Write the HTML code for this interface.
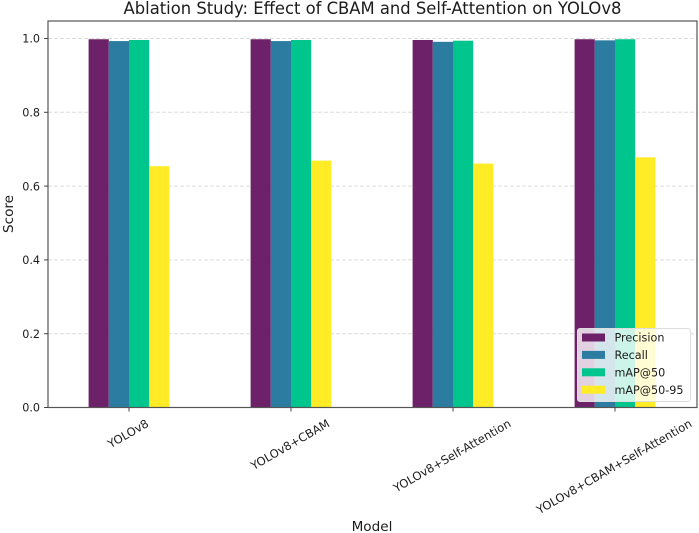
<!DOCTYPE html>
<html lang="en">
<head>
<meta charset="utf-8">
<title>Ablation Study</title>
<style>
html,body{margin:0;padding:0;background:#fff;width:699px;height:533px;overflow:hidden}
svg{display:block;font-family:"DejaVu Sans","Liberation Sans",sans-serif;fill:#1c1c1c;filter:blur(0.35px)}
</style>
</head>
<body>
<svg id="chart" width="699" height="533" viewBox="0 0 699 533" xmlns="http://www.w3.org/2000/svg"></svg>
<script>
const categories = ["YOLOv8", "YOLOv8+CBAM", "YOLOv8+Self-Attention", "YOLOv8+CBAM+Self-Attention"];
const seriesNames = ["Precision", "Recall", "mAP@50", "mAP@50-95"];
const seriesColors = ["#6d2169", "#2c7ca2", "#00c58c", "#ffec26"];
const precision = [0.998, 0.998, 0.996, 0.998];
const recall = [0.993, 0.993, 0.991, 0.995];
const map50 = [0.996, 0.996, 0.994, 0.998];
const map5095 = [0.654, 0.669, 0.661, 0.678];
const yTicks = [0, 0.2, 0.4, 0.6, 0.8, 1.0];

const allSeries = [precision, recall, map50, map5095];
const svg = document.getElementById('chart');
const NS = 'http://www.w3.org/2000/svg';
const plot = {left: 48, right: 697, top: 21, bottom: 407.5};
function xScale(i) { return 129 + i * 162; }
function yScale(v) { return plot.bottom - v * 369; }
const barW = 20.2;

function make(tag, attrs, text) {
  const el = document.createElementNS(NS, tag);
  for (const k in attrs) el.setAttribute(k, attrs[k]);
  if (text !== undefined) el.textContent = text;
  svg.appendChild(el);
  return el;
}

yTicks.forEach(function (t) {
  const y = yScale(t);
  const grid = make('line', {x1: plot.left, x2: plot.right, y1: y, y2: y, stroke: '#dcdcdc', 'stroke-width': 1, 'stroke-dasharray': '4 2'});
  
  
});

allSeries.forEach(function (vals, s) {
  vals.forEach(function (v, i) {
    const bar = make('rect', {x: xScale(i) + (s - 2) * barW, y: yScale(v), width: barW, height: yScale(0) - yScale(v), fill: seriesColors[s]});
    
    
  });
});

const frame = make('rect', {x: plot.left, y: plot.top, width: plot.right - plot.left, height: plot.bottom - plot.top, fill: 'none', stroke: '#555', 'stroke-width': 1.2});



yTicks.forEach(function (t) {
  const y = yScale(t);
  const tick = make('line', {x1: plot.left - 4, x2: plot.left, y1: y, y2: y, stroke: '#444', 'stroke-width': 1});
  
  
  const lab = make('text', {x: plot.left - 8, y: y + 4.2, 'text-anchor': 'end', 'font-size': 11.2}, t.toFixed(1));
  
  
});

categories.forEach(function (c, i) {
  const x = xScale(i);
  const tick = make('line', {x1: x, x2: x, y1: plot.bottom, y2: plot.bottom + 4, stroke: '#444', 'stroke-width': 1});
  
  
  const lab = make('text', {x: x, y: 430, 'text-anchor': 'middle', 'font-size': 11.6}, c);
  
  
  const len = lab.getComputedTextLength();
  const cx = x - 1;
  const cy = 416.5 + (len * 0.5 + 11.5) / 2;
  lab.setAttribute('x', cx);
  lab.setAttribute('y', cy + 4.2);
  lab.setAttribute('transform', 'rotate(-30 ' + cx + ' ' + cy + ')');
});

const title = make('text', {x: 372.5, y: 14, 'text-anchor': 'middle', 'font-size': 16.4}, 'Ablation Study: Effect of CBAM and Self-Attention on YOLOv8');


const xTitle = make('text', {x: 372, y: 531, 'text-anchor': 'middle', 'font-size': 13.6}, 'Model');


const yTitle = make('text', {x: 13, y: 214, 'text-anchor': 'middle', 'font-size': 13.6, transform: 'rotate(-90 13 214)'}, 'Score');



const legendBox = make('rect', {x: 577.5, y: 328.5, width: 113, height: 73, rx: 2.5, fill: '#fff', 'fill-opacity': 0.8, stroke: '#ddd', 'stroke-width': 1});


seriesNames.forEach(function (n, s) {
  const cy = 337.5 + s * 17.4;
  const sw = make('rect', {x: 582, y: cy - 4, width: 23, height: 8, fill: seriesColors[s]});
  
  
  const lab = make('text', {x: 614.5, y: cy + 4.2, 'font-size': 11.2}, n);
  
  
});
</script>
</body>
</html>
